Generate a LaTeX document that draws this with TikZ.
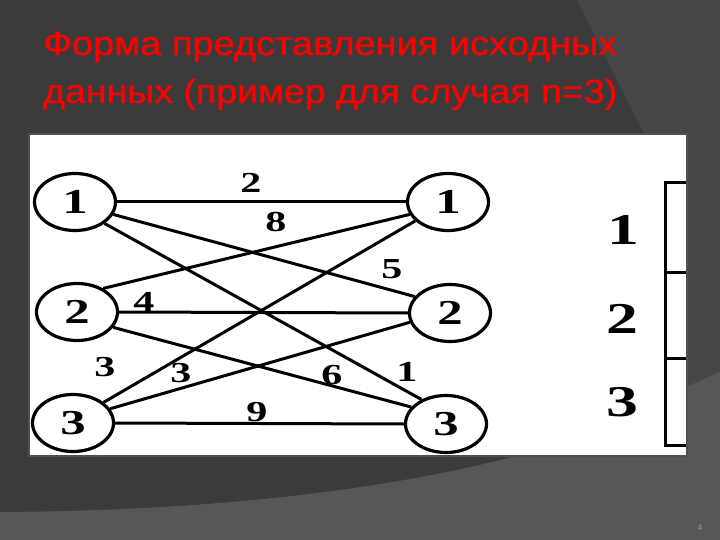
\documentclass[tikz,border=0pt]{standalone}
\usepackage{fontspec}
\setmainfont{Liberation Serif}
\newfontfamily\titlefont[FakeBold=0.8]{Liberation Sans}
\newfontfamily\pagefont{Liberation Sans}
\usetikzlibrary{shapes.geometric}
\definecolor{bgdark}{HTML}{3B3B3B}
\definecolor{bgmid}{HTML}{464646}
\definecolor{bglight}{HTML}{575757}
\definecolor{titlered}{HTML}{FF0000}
\definecolor{pagegray}{HTML}{9A9A9A}
\definecolor{panelrim}{HTML}{505050}
\begin{document}
\begin{tikzpicture}[x=1pt,y=-1pt,
  vert/.style={ellipse, draw=black, line width=3.2pt, fill=white, minimum width=81pt, minimum height=57pt, inner sep=0pt, font=\fontsize{35}{35}\selectfont\bfseries},
  edge/.style={line width=3pt, draw=black},
  wlabel/.style={inner sep=0pt, font=\fontsize{29}{29}\selectfont\bfseries},
  tlabel/.style={inner sep=0pt, font=\fontsize{44}{44}\selectfont\bfseries},
  tline/.style={line width=3pt, draw=black},
  titleline/.style={anchor=base west, inner sep=0pt, text=titlered, font=\titlefont\fontsize{33.5}{40}\selectfont}]
\useasboundingbox (0,0) rectangle (720,540);
% background
\fill[bgdark] (0,0) rectangle (720,540);
\fill[bgmid] (577,0) -- (720,0) -- (720,400) -- (665,400) -- (665,176) -- cycle;
\fill[bglight] (0,512) .. controls (200,511) and (380,492) .. (520,455) .. controls (600,430) and (660,398) .. (720,372) -- (720,540) -- (0,540) -- cycle;
% title
\node[titleline] (t1) at (43,55) {\resizebox{574pt}{\height}{Форма представления исходных}};
\node[titleline] (t2) at (43,103) {\resizebox{574pt}{\height}{данных (пример для случая n=3)}};
% panel
\draw[panelrim, line width=1.5pt] (29,134) rectangle (687,456);
\fill[white] (30,135) rectangle (686,455);
% vertices
\node[vert] (L1) at (75,202) {\scalebox{1.45}[1]{1}};
\node[vert] (L2) at (77,312) {\scalebox{1.45}[1]{2}};
\node[vert] (L3) at (73,423) {\scalebox{1.45}[1]{3}};
\node[vert] (R1) at (448,202) {\scalebox{1.45}[1]{1}};
\node[vert] (R2) at (450,313) {\scalebox{1.45}[1]{2}};
\node[vert] (R3) at (446,424) {\scalebox{1.45}[1]{3}};
% edges
\draw[edge] (L1.east) -- (R1.west);
\draw[edge] (L1.-18) -- (R2.155);
\draw[edge] (L1.-36) -- (R3.135);
\draw[edge] (L2.42) -- (R1.198);
\draw[edge] (L2.east) -- (R2.west);
\draw[edge] (L2.-23) -- (R3.154);
\draw[edge] (L3.34) -- (R1.210);
\draw[edge] (L3.21) -- (R2.193);
\draw[edge] (L3.east) -- (R3.west);
% weights
\node[wlabel] (w12) at (251,183) {\scalebox{1.45}[1]{2}};
\node[wlabel] (w21) at (276,222) {\scalebox{1.45}[1]{8}};
\node[wlabel] (w12b) at (392,269) {\scalebox{1.45}[1]{5}};
\node[wlabel] (w22) at (144,302) {\scalebox{1.45}[1]{4}};
\node[wlabel] (w31) at (105,367) {\scalebox{1.45}[1]{3}};
\node[wlabel] (w32) at (181,373) {\scalebox{1.45}[1]{3}};
\node[wlabel] (w23) at (332,375) {\scalebox{1.45}[1]{6}};
\node[wlabel] (w13) at (407,372) {\scalebox{1.45}[1]{1}};
\node[wlabel] (w33) at (257,412) {\scalebox{1.45}[1]{9}};
% table
\coordinate (ta) at (686,183);
\coordinate (tb) at (665,183);
\coordinate (tc) at (665,445);
\coordinate (td) at (686,445);
\coordinate (te) at (665,272);
\coordinate (tf) at (686,272);
\coordinate (tg) at (665,358);
\coordinate (th) at (686,358);
\draw[tline] (ta) -- (tb) -- (tc) -- (td);
\draw[tline] (te) -- (tf);
\draw[tline] (tg) -- (th);
\node[tlabel] (k1) at (623,230) {\scalebox{1.45}[1]{1}};
\node[tlabel] (k2) at (622,319) {\scalebox{1.45}[1]{2}};
\node[tlabel] (k3) at (622,402) {\scalebox{1.45}[1]{3}};
% page number
\node[inner sep=0pt, text=pagegray, font=\pagefont\fontsize{8}{8}\selectfont] (pg) at (700,528) {4};
\end{tikzpicture}
\end{document}
